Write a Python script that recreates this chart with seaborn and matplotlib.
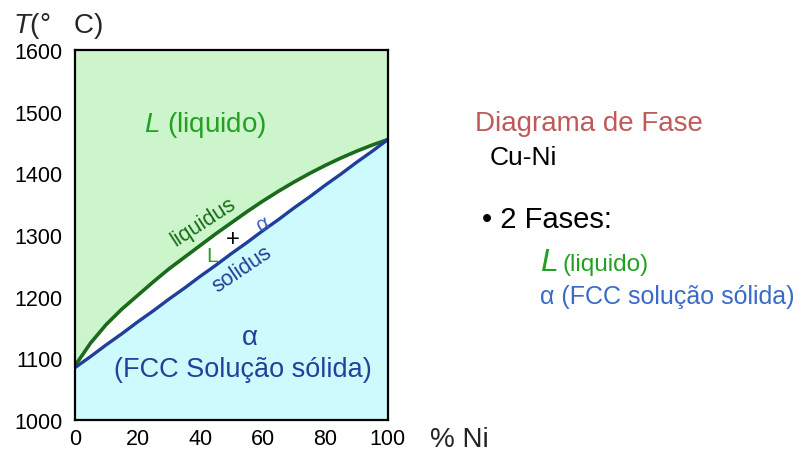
import numpy as np
import pandas as pd
import seaborn as sns
import matplotlib
import matplotlib.pyplot as plt

matplotlib.use("Agg")

ni_pct = [0, 5, 10, 15, 20, 25, 30, 35, 40, 45, 50,
          55, 60, 65, 70, 75, 80, 85, 90, 95, 100]
liquidus_T = [1088, 1125, 1155, 1180, 1202, 1224, 1245, 1264, 1283, 1302, 1320,
              1338, 1355, 1371, 1386, 1400, 1413, 1425, 1436, 1446, 1455]
solidus_T = [1085, 1103, 1122, 1140, 1159, 1177, 1196, 1214, 1233, 1251, 1270,
             1288, 1307, 1325, 1344, 1362, 1381, 1399, 1418, 1436, 1455]
x_ticks = [0, 20, 40, 60, 80, 100]
y_ticks = [1000, 1100, 1200, 1300, 1400, 1500, 1600]

df = pd.DataFrame({"ni": ni_pct, "liquidus": liquidus_T, "solidus": solidus_T})

sns.set_style("white")
plt.rcParams["font.family"] = ["Liberation Sans", "DejaVu Sans"]
plt.rcParams["mathtext.fontset"] = "custom"
plt.rcParams["mathtext.rm"] = "Liberation Sans"
plt.rcParams["mathtext.it"] = "Liberation Sans:italic"

fig = plt.figure(figsize=(8.03, 4.52), dpi=100)
ax = fig.add_axes([0.0934, 0.0686, 0.3897, 0.8184])

# regiões de fase
ax.fill_between(df["ni"], df["liquidus"], 1600, color="#ccf5cc", lw=0)
ax.fill_between(df["ni"], df["solidus"], df["liquidus"], color="white", lw=0)
ax.fill_between(df["ni"], 1000, df["solidus"], color="#ccfafd", lw=0)

sns.lineplot(data=df, x="ni", y="liquidus", ax=ax, color="#1b6b1b", lw=2.6)
sns.lineplot(data=df, x="ni", y="solidus", ax=ax, color="#1e3f9a", lw=2.4)

ax.set_xlim(0, 100)
ax.set_ylim(1000, 1600)
ax.set_xticks(x_ticks)
ax.set_yticks(y_ticks)
ax.tick_params(direction="in", length=9.5, width=1.8, labelsize=15.5, colors="black")
ax.tick_params(axis="y", pad=9)
ax.tick_params(axis="x", pad=6)
for s in ax.spines.values():
    s.set_color("black")
    s.set_linewidth(1.6)
ax.set_xlabel("")
ax.set_ylabel("")

fig.text(0.016, 0.927, r"$T$(°   C)", fontsize=20, va="baseline")
fig.text(0.535, 0.010, "% Ni", fontsize=20, va="baseline")

# rótulos dentro do diagrama
green = "#22a022"
blue = "#253f9a"
ax.text(41.5, 1480, r"$L$ (liquido)", color=green, fontsize=20, ha="center", va="center")
ax.text(41, 1322, "liquidus", color="#1b6b1b", fontsize=15.5, rotation=33,
        ha="center", va="center")
ax.text(43.8, 1266, "L", color=green, fontsize=15, ha="center", va="center")
ax.text(50.5, 1293, "+", color="black", fontsize=17, ha="center", va="center")
ax.text(59.7, 1318, "α", color="#3a63c0", fontsize=15, rotation=25,
        ha="center", va="center")
ax.text(53.4, 1246, "solidus", color=blue, fontsize=15.5, rotation=34,
        ha="center", va="center")
ax.text(56, 1134, "α", color=blue, fontsize=20, ha="center", va="center")
ax.text(53.5, 1083, "(FCC Solução sólida)", color=blue, fontsize=19.5, ha="center", va="center")

# texto à direita
fig.text(0.591, 0.726, "Diagrama de Fase", color="#c05a5a", fontsize=20, va="center")
fig.text(0.610, 0.650, "Cu-Ni", color="black", fontsize=19, va="center")
fig.text(0.600, 0.513, "• 2 Fases:", color="black", fontsize=21, va="center")
fig.text(0.672, 0.400, r"$L$", color=green, fontsize=23, va="baseline")
fig.text(0.701, 0.400, "(liquido)", color=green, fontsize=17.5, va="baseline")
fig.text(0.672, 0.328, "α (FCC solução sólida)", color="#3a6bc8", fontsize=18, va="baseline")

fig.savefig("out.png", dpi=100)
